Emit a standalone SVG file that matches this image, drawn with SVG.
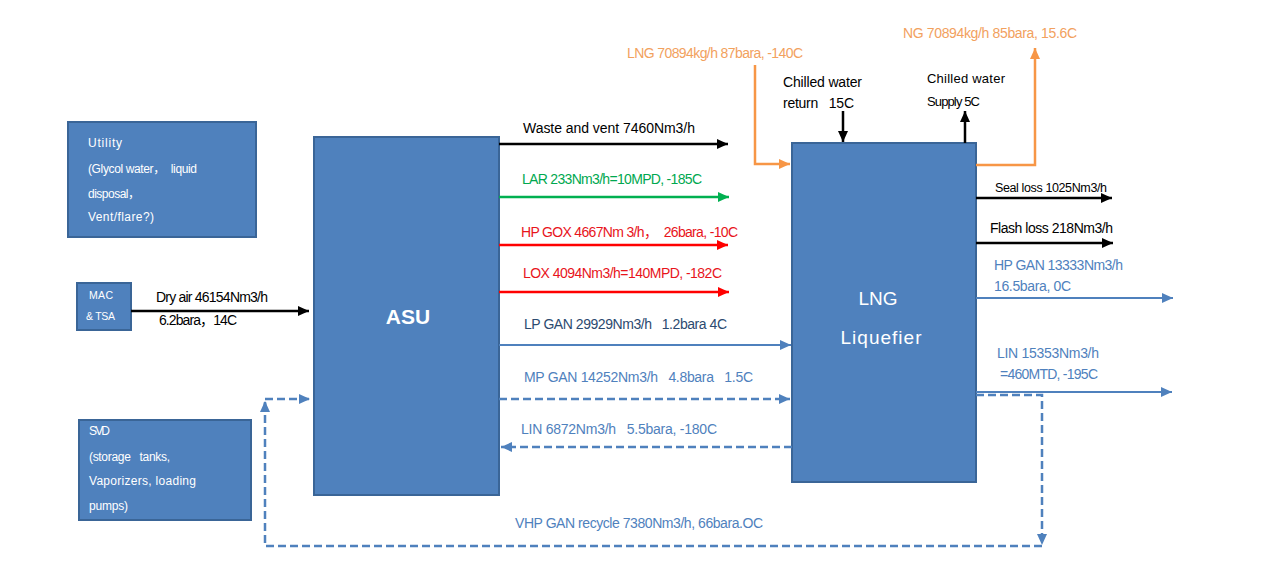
<svg xmlns="http://www.w3.org/2000/svg" width="1268" height="577" viewBox="0 0 1268 577">
<style>
text { font-family: "Liberation Sans", "Noto Sans CJK SC", sans-serif; white-space: pre; }
.box { fill: #4F81BD; stroke: #3A6597; stroke-width: 2; }
.wt { fill: #FFFFFF; font-size: 12px; }
.lbl { font-size: 14px; }
.k { fill: #000000; }
.bl { fill: #4F81BD; }
.bd { fill: #2C4A70; }
.or { fill: #F2A15E; }
.gr { fill: #00A84F; }
.rd { fill: #E8141B; }
.ln { fill: none; stroke-width: 2.5; }
.lk { stroke: #000000; }
.lb { stroke: #4F81BD; stroke-width: 2; }
.lo { stroke: #F79646; }
.lg { stroke: #00B050; }
.lr { stroke: #FF0000; }
.dash { stroke: #4F81BD; stroke-width: 2.5; stroke-dasharray: 8 4; fill: none; }
</style>
<defs>
<marker id="ak" markerUnits="userSpaceOnUse" markerWidth="12" markerHeight="10" refX="11" refY="5" orient="auto"><path d="M0,0 L11,5 L0,10 z" fill="#000000"/></marker>
<marker id="ab" markerUnits="userSpaceOnUse" markerWidth="12" markerHeight="10" refX="11" refY="5" orient="auto"><path d="M0,0 L11,5 L0,10 z" fill="#4F81BD"/></marker>
<marker id="ao" markerUnits="userSpaceOnUse" markerWidth="12" markerHeight="10" refX="11" refY="5" orient="auto"><path d="M0,0 L11,5 L0,10 z" fill="#F79646"/></marker>
<marker id="ag" markerUnits="userSpaceOnUse" markerWidth="12" markerHeight="10" refX="11" refY="5" orient="auto"><path d="M0,0 L11,5 L0,10 z" fill="#00B050"/></marker>
<marker id="ar" markerUnits="userSpaceOnUse" markerWidth="12" markerHeight="10" refX="11" refY="5" orient="auto"><path d="M0,0 L11,5 L0,10 z" fill="#FF0000"/></marker>
</defs>
<rect width="1268" height="577" fill="#FFFFFF"/>

<g id="utility">
<rect class="box" x="68" y="122" width="188" height="115"/>
<text class="wt" x="88" y="147" textLength="34">Utility</text>
<text class="wt" x="88" y="173" textLength="109">(Glycol water，  liquid</text>
<text class="wt" x="88" y="198" textLength="52">disposal，</text>
<text class="wt" x="88" y="221" textLength="66">Vent/flare?)</text>
</g>

<g id="mac">
<rect class="box" x="77" y="283" width="54" height="47"/>
<text class="wt" x="89" y="299" style="font-size:10.5px" textLength="24">MAC</text>
<text class="wt" x="86" y="320" style="font-size:10.5px" textLength="29">&amp; TSA</text>
</g>

<g id="svd">
<rect class="box" x="79" y="420" width="172" height="100"/>
<text class="wt" x="89" y="435" textLength="21">SVD</text>
<text class="wt" x="89" y="461" textLength="81">(storage   tanks,</text>
<text class="wt" x="89" y="485" textLength="107">Vaporizers, loading</text>
<text class="wt" x="89" y="510" textLength="39">pumps)</text>
</g>

<g id="asu">
<rect class="box" x="314" y="137" width="185" height="358"/>
<text x="408" y="324" text-anchor="middle" style="font-size:21px;font-weight:bold;fill:#FFFFFF">ASU</text>
</g>

<g id="liquefier">
<rect class="box" x="792" y="143" width="184" height="339"/>
<text x="878" y="305" text-anchor="middle" style="font-size:19px;fill:#FFFFFF">LNG</text>
<text x="881" y="344" text-anchor="middle" style="font-size:19px;fill:#FFFFFF" textLength="81">Liquefier</text>
</g>

<g id="connectors">
<line class="ln lk" x1="131" y1="311" x2="309" y2="311" marker-end="url(#ak)"/>
<line class="ln lk" x1="499" y1="144" x2="728" y2="144" marker-end="url(#ak)"/>
<line class="ln lg" x1="499" y1="197" x2="729" y2="197" marker-end="url(#ag)"/>
<line class="ln lr" x1="499" y1="245" x2="728" y2="245" marker-end="url(#ar)"/>
<line class="ln lr" x1="499" y1="292" x2="729" y2="292" marker-end="url(#ar)"/>
<line class="ln lb" x1="499" y1="345" x2="791" y2="345" marker-end="url(#ab)"/>
<line class="dash" x1="499" y1="399" x2="790" y2="399" marker-end="url(#ab)"/>
<line class="dash" x1="792" y1="447" x2="501" y2="447" marker-end="url(#ab)"/>
<polyline class="ln lo" points="755,65 755,164 790,164" marker-end="url(#ao)"/>
<polyline class="ln lo" points="976,165 1035,165 1035,48" marker-end="url(#ao)"/>
<line class="ln lk" x1="843" y1="111" x2="843" y2="142" marker-end="url(#ak)"/>
<line class="ln lk" x1="965" y1="143" x2="965" y2="111" marker-end="url(#ak)"/>
<line class="ln lk" x1="976" y1="198" x2="1112" y2="198" marker-end="url(#ak)"/>
<line class="ln lk" x1="976" y1="243" x2="1113" y2="243" marker-end="url(#ak)"/>
<line class="ln lb" x1="976" y1="298" x2="1173" y2="298" marker-end="url(#ab)"/>
<line class="ln lb" x1="976" y1="392" x2="1172" y2="392" marker-end="url(#ab)"/>
<polyline class="dash" points="976,395 1042,395 1042,545" marker-end="url(#ab)"/>
<polyline class="dash" points="1042,546 265,546 265,402"/>
<line class="dash" x1="265" y1="410" x2="265" y2="401" marker-end="url(#ab)"/>
<line class="dash" x1="265" y1="399" x2="310" y2="399" marker-end="url(#ab)"/>
</g>

<g id="labels">
<text class="lbl k" x="156" y="302" textLength="112">Dry air 46154Nm3/h</text>
<text class="lbl k" x="159" y="325" textLength="78">6.2bara，14C</text>
<text class="lbl k" x="523" y="133" textLength="172">Waste and vent 7460Nm3/h</text>
<text class="lbl gr" x="522" y="184" textLength="180">LAR 233Nm3/h=10MPD, -185C</text>
<text class="lbl rd" x="521" y="237" textLength="217">HP GOX 4667Nm 3/h，  26bara, -10C</text>
<text class="lbl rd" x="523" y="278" textLength="199">LOX 4094Nm3/h=140MPD, -182C</text>
<text class="lbl bd" x="524" y="329" textLength="203">LP GAN 29929Nm3/h   1.2bara 4C</text>
<text class="lbl bl" x="524" y="382" textLength="229">MP GAN 14252Nm3/h   4.8bara   1.5C</text>
<text class="lbl bl" x="521" y="434" textLength="196">LIN 6872Nm3/h   5.5bara, -180C</text>
<text class="lbl bl" x="515" y="528" textLength="248">VHP GAN recycle 7380Nm3/h, 66bara.OC</text>
<text class="lbl or" x="627" y="58" textLength="176">LNG 70894kg/h 87bara, -140C</text>
<text class="lbl or" x="903" y="38" textLength="174">NG 70894kg/h 85bara, 15.6C</text>
<text class="lbl k" x="783" y="87" textLength="79">Chilled water</text>
<text class="lbl k" x="783" y="108" textLength="71">return   15C</text>
<text class="k" x="927" y="83" style="font-size:13px" textLength="78">Chilled water</text>
<text class="k" x="927" y="106" style="font-size:13px" textLength="53">Supply 5C</text>
<text class="k" x="995" y="192" style="font-size:12.5px" textLength="112">Seal loss 1025Nm3/h</text>
<text class="lbl k" x="990" y="233" textLength="123">Flash loss 218Nm3/h</text>
<text class="lbl bl" x="994" y="270" textLength="129">HP GAN 13333Nm3/h</text>
<text class="lbl bl" x="994" y="291" textLength="77">16.5bara, 0C</text>
<text class="lbl bl" x="997" y="358" textLength="102">LIN 15353Nm3/h</text>
<text class="lbl bl" x="1000" y="379" textLength="98">=460MTD, -195C</text>
</g>
</svg>
